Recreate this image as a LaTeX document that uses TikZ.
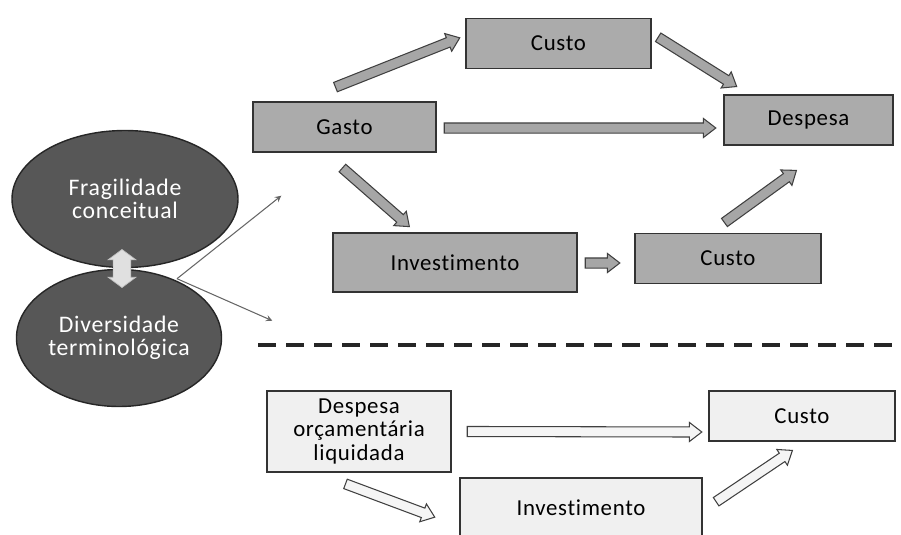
\documentclass[tikz,border=0pt]{standalone}
\usepackage{fontspec}
\setmainfont[Ligatures=NoCommon, LetterSpace=3]{Carlito}
\usetikzlibrary{shapes.geometric, shapes.arrows, arrows, calc}
\tikzstyle{topbox} = [rectangle, 
minimum width=3.7cm, 
minimum height=1cm,
text centered, 
text width=3cm,
draw=black!80, 
line width=0.8pt,
fill=black!33]
\tikzstyle{lowbox} = [rectangle, 
minimum width=3.7cm, 
minimum height=1cm,
text centered, 
text width=3.4cm,
draw=black!80, 
line width=0.8pt,
fill=black!6]
\tikzstyle{idea} = [ellipse, 
minimum height=2.74cm,
inner sep=0pt,
text centered, 
text width=2.9cm,
font=\fontsize{13.5}{13}\selectfont,
draw=black!85, 
line width=0.8pt,
text=white,
fill=black!66]
\tikzstyle{fat} = [single arrow, 
inner xsep=0pt, 
inner ysep=0.09cm,
single arrow head extend=0.09cm,
single arrow tip angle=75,
line width=0.6pt,
draw=black!75, 
fill=black!35]
\tikzstyle{fatlight} = [fat, fill=black!4]
\tikzstyle{dblarrow} = [double arrow, 
rotate=90,
inner xsep=0pt, 
inner ysep=0.17cm,
double arrow head extend=0.1cm,
double arrow tip angle=107,
minimum height=0.76cm,
draw=black!25, 
fill=black!12]
\tikzstyle{arrow} = [line width=0.6pt,->,>=stealth,draw=black!60]
\tikzstyle{sep} = [dash pattern=on 0.36cm off 0.2cm, line width=2.2pt, draw=black!85]

\newcommand{\fatarrow}[3][fat]{%
\path let \p1=($(#3)-(#2)$), \n1={veclen(\x1,\y1)}, \n2={atan2(\y1,\x1)} in
node [#1, anchor=tail, rotate=\n2, minimum height=\n1] at (#2) {};}

\begin{document}
\begin{tikzpicture}[node distance=2cm, auto, font=\fontsize{13}{13.5}\selectfont]
		\useasboundingbox (-6.89,-8.14) rectangle (11.13,2.54);
		\clip (-6.89,-8.14) rectangle (11.13,2.54);
		\node (gasto) [topbox, minimum width=3.66cm] {Gasto};
		\node (custo1) [topbox, right of=gasto, node distance=4.28cm, yshift=1.67cm] {Custo};
		\node (despesa) [topbox, right of=gasto, node distance=9.28cm, yshift=0.14cm, minimum width=3.38cm] {Despesa};
		\node (invest1) [topbox, below of=gasto, node distance=2.71cm, xshift=2.21cm, minimum width=4.88cm, minimum height=1.18cm] {Investimento};
		\node (custo2) [topbox, right of=invest1, node distance=5.46cm, yshift=0.08cm, minimum width=3.72cm] {Custo};
		\node (frag) [idea, left of=gasto, node distance=4.39cm, yshift=-1.44cm, minimum width=4.52cm] {Fragilidade\\ conceitual};
		\node (div) [idea, below of=frag, node distance=2.78cm, xshift=-0.12cm, minimum width=4.1cm] {Diversidade\\ terminológica};
		\node (desporc) [lowbox, below of=gasto, node distance=6.09cm, xshift=0.29cm, minimum width=3.68cm, minimum height=1.62cm] {Despesa\\ orçamentária\\ liquidada};
		\node (custo3) [lowbox, right of=desporc, node distance=8.86cm, yshift=0.31cm, minimum width=3.72cm] {Custo};
		\node (invest2) [lowbox, right of=desporc, node distance=4.44cm, yshift=-1.52cm, minimum width=4.84cm, minimum height=1.18cm] {Investimento};
	
		\node (dbl) [dblarrow] at ($(frag.south)!0.5!(div.north)$) {};
		\coordinate (fork) at ([xshift=1.04cm, yshift=-0.21cm]frag.south);
		\coordinate (upper) at ([xshift=0.58cm, yshift=-0.86cm]gasto.south west);
		\coordinate (lower) at ([xshift=-1.2cm, yshift=-0.56cm]invest1.south west);
		\draw [arrow] (fork) -- (upper);
		\draw [arrow] (fork) -- (lower);
	
		\fatarrow{[xshift=-0.19cm, yshift=0.28cm]gasto.north}{[xshift=-0.12cm, yshift=0.11cm]custo1.west}
		\fatarrow{[xshift=0.12cm, yshift=0.13cm]custo1.east}{[xshift=0.26cm, yshift=0.16cm]despesa.north west}
		\fatarrow{[xshift=0.14cm, yshift=-0.02cm]gasto.east}{[xshift=-0.16cm, yshift=-0.16cm]despesa.west}
		\fatarrow{[xshift=-0.05cm, yshift=-0.3cm]gasto.south}{[xshift=-0.92cm, yshift=0.12cm]invest1.north}
		\fatarrow{[xshift=0.14cm, yshift=-0.01cm]invest1.east}{[xshift=-0.3cm, yshift=-0.09cm]custo2.west}
		\fatarrow{[xshift=-0.08cm, yshift=0.2cm]custo2.north}{[xshift=-0.25cm, yshift=-0.5cm]despesa.south}
	
		\coordinate (sl) at ([xshift=-1.73cm, yshift=-4.36cm]gasto.center);
		\coordinate (sr) at ([xshift=11.13cm, yshift=-4.36cm]gasto.center);
		\draw [sep] (sl) -- (sr);
	
		\fatarrow[fatlight]{[xshift=0.3cm]desporc.east}{[xshift=-0.14cm, yshift=-0.32cm]custo3.west}
		\fatarrow[fatlight]{[xshift=-0.28cm, yshift=-0.22cm]desporc.south}{[xshift=-0.5cm, yshift=-0.19cm]invest2.west}
		\fatarrow[fatlight]{[xshift=0.26cm, yshift=0.11cm]invest2.east}{[xshift=-0.2cm, yshift=-0.18cm]custo3.south}
	\end{tikzpicture}
\end{document}
